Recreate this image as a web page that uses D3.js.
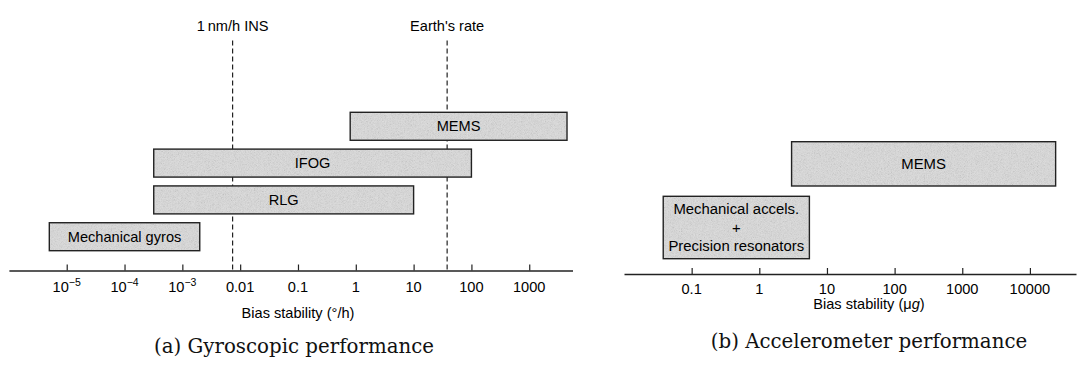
<!DOCTYPE html>
<html>
<head>
<meta charset="utf-8">
<script src="https://cdn.jsdelivr.net/npm/d3@7"></script>
<style>
  html, body { margin: 0; padding: 0; background: #fff; }
  svg { display: block; }
  .lbl { font-family: "Liberation Sans", Arial, sans-serif; fill: #000; }
  .cap { font-family: "DejaVu Serif", "Liberation Serif", serif; fill: #111; }
</style>
</head>
<body>
<svg id="chart" width="1082" height="366"></svg>
<script>
// ---- Gyroscope data (bias stability, deg/h) ----
const gyroNames = ["MEMS", "IFOG", "RLG", "Mechanical gyros"];
const gyroLow   = [0.8, 3.2e-4, 3.2e-4, 5e-6];
const gyroHigh  = [4500, 100, 10, 2e-3];
const gyroTicks = [1e-5, 1e-4, 1e-3, 0.01, 0.1, 1, 10, 100, 1000];
const gyroTickBase = ["10", "10", "10", "0.01", "0.1", "1", "10", "100", "1000"];
const gyroTickExp  = ["\u22125", "\u22124", "\u22123", "", "", "", "", "", ""];
const refNames  = ["1\u2009nm/h INS", "Earth's rate"];
const refValues = [0.0074, 38];

// ---- Accelerometer data (bias stability, micro-g) ----
const accelNames = ["MEMS", "Mechanical accels."];
const accelText  = [["MEMS"], ["Mechanical accels.", "+", "Precision resonators"]];
const accelLow   = [3, 0.038];
const accelHigh  = [24000, 5.5];
const accelTicks = [0.1, 1, 10, 100, 1000, 10000];
const accelTickLabels = ["0.1", "1", "10", "100", "1000", "10000"];

const svg = d3.select("#chart");
const ink = "#222";
const fs = 14.6;

// stipple texture for the range boxes
const defs = svg.append("defs");
const grain = defs.append("filter").attr("id", "grain")
  .attr("x", 0).attr("y", 0).attr("width", 1).attr("height", 1);
grain.append("feTurbulence").attr("type", "fractalNoise")
  .attr("baseFrequency", 1.3).attr("numOctaves", 2).attr("seed", 7).attr("result", "n");
grain.append("feColorMatrix").attr("in", "n").attr("type", "saturate").attr("values", 0).attr("result", "g");
grain.append("feComposite").attr("in", "g").attr("in2", "SourceGraphic").attr("operator", "in");

function box(g, x0, x1, y0, y1) {
  g.append("rect").attr("x", x0).attr("y", y0).attr("width", x1 - x0).attr("height", y1 - y0)
    .attr("fill", "#dcdcdc");
  g.append("rect").attr("x", x0).attr("y", y0).attr("width", x1 - x0).attr("height", y1 - y0)
    .attr("fill", "#fff").attr("filter", "url(#grain)").attr("opacity", 0.45);
  g.append("rect").attr("x", x0).attr("y", y0).attr("width", x1 - x0).attr("height", y1 - y0)
    .attr("fill", "none").attr("stroke", ink).attr("stroke-width", 1.4);
}

// ================= (a) Gyroscopic performance =================
const gx = d3.scaleLog().domain([1e-6, 5600]).range([8.9, 572.5]);
const gy = d3.scaleBand().domain(gyroNames).range([112.3, 250.7]).paddingInner(0.24).paddingOuter(0);
const gAxisY = 270.5;
const ga = svg.append("g");

// reference lines
refValues.forEach((v, i) => {
  const x = gx(v);
  ga.append("line").attr("x1", x).attr("x2", x).attr("y1", 40.5).attr("y2", gAxisY)
    .attr("stroke", ink).attr("stroke-width", 1.2).attr("stroke-dasharray", "5,3");
  ga.append("text").attr("class", "lbl").attr("x", x).attr("y", 30.5)
    .attr("text-anchor", "middle").attr("font-size", fs).text(refNames[i]);
});

gyroNames.forEach((n, i) => {
  const x0 = gx(gyroLow[i]), x1 = gx(gyroHigh[i]);
  const y0 = gy(n), y1 = y0 + gy.bandwidth();
  box(ga, x0, x1, y0, y1);
  ga.append("text").attr("class", "lbl").attr("x", (x0 + x1) / 2).attr("y", (y0 + y1) / 2 + 5.2)
    .attr("text-anchor", "middle").attr("font-size", fs).text(n);
});

const gAxis = ga.append("g").attr("transform", `translate(0,${gAxisY})`)
  .call(d3.axisBottom(gx).tickValues(gyroTicks).tickSizeInner(-6).tickSizeOuter(0).tickFormat(""));
gAxis.select(".domain").attr("stroke", ink).attr("stroke-width", 1.5);
gAxis.selectAll(".tick line").attr("stroke", ink).attr("stroke-width", 1.2);

gyroTicks.forEach((v, i) => {
  const t = ga.append("text").attr("class", "lbl").attr("x", gx(v)).attr("y", 291.5)
    .attr("text-anchor", "middle").attr("font-size", fs).text(gyroTickBase[i]);
  if (gyroTickExp[i]) {
    t.append("tspan").attr("dy", -6).attr("font-size", 10.5).text(gyroTickExp[i]);
  }
});

ga.append("text").attr("class", "lbl").attr("x", 298).attr("y", 318)
  .attr("text-anchor", "middle").attr("font-size", fs).text("Bias stability (\u00b0/h)");

ga.append("text").attr("class", "cap").attr("x", 294).attr("y", 353)
  .attr("text-anchor", "middle").attr("font-size", 19.8).text("(a) Gyroscopic performance");

// ================= (b) Accelerometer performance =================
const ax = d3.scaleLog().domain([0.01, 48000]).range([624, 1076]);
const rowTop = d3.scaleOrdinal().domain(accelNames).range([141.7, 196.3]);
const rowBottom = d3.scaleOrdinal().domain(accelNames).range([186, 258.7]);
const aAxisY = 274;
const gb = svg.append("g");

accelNames.forEach((n, i) => {
  const x0 = ax(accelLow[i]), x1 = ax(accelHigh[i]);
  const y0 = rowTop(n), y1 = rowBottom(n);
  box(gb, x0, x1, y0, y1);
  const lines = accelText[i];
  const lh = 18.6;
  lines.forEach((s, k) => {
    gb.append("text").attr("class", "lbl").attr("x", (x0 + x1) / 2)
      .attr("y", (y0 + y1) / 2 + 5.2 + (k - (lines.length - 1) / 2) * lh)
      .attr("text-anchor", "middle").attr("font-size", 14.9).text(s);
  });
});

const bAxis = gb.append("g").attr("transform", `translate(0,${aAxisY})`)
  .call(d3.axisBottom(ax).tickValues(accelTicks).tickSizeInner(-6).tickSizeOuter(0).tickFormat(""));
bAxis.select(".domain").attr("stroke", ink).attr("stroke-width", 1.5);
bAxis.selectAll(".tick line").attr("stroke", ink).attr("stroke-width", 1.2);

accelTicks.forEach((v, i) => {
  gb.append("text").attr("class", "lbl").attr("x", ax(v)).attr("y", 293.5)
    .attr("text-anchor", "middle").attr("font-size", fs).text(accelTickLabels[i]);
});

const mu = gb.append("text").attr("class", "lbl").attr("x", 869).attr("y", 308.5)
  .attr("text-anchor", "middle").attr("font-size", fs);
mu.append("tspan").text("Bias stability (\u03bc");
mu.append("tspan").attr("font-style", "italic").text("g");
mu.append("tspan").text(")");

gb.append("text").attr("class", "cap").attr("x", 869).attr("y", 348)
  .attr("text-anchor", "middle").attr("font-size", 19.8).text("(b) Accelerometer performance");
</script>
</body>
</html>
